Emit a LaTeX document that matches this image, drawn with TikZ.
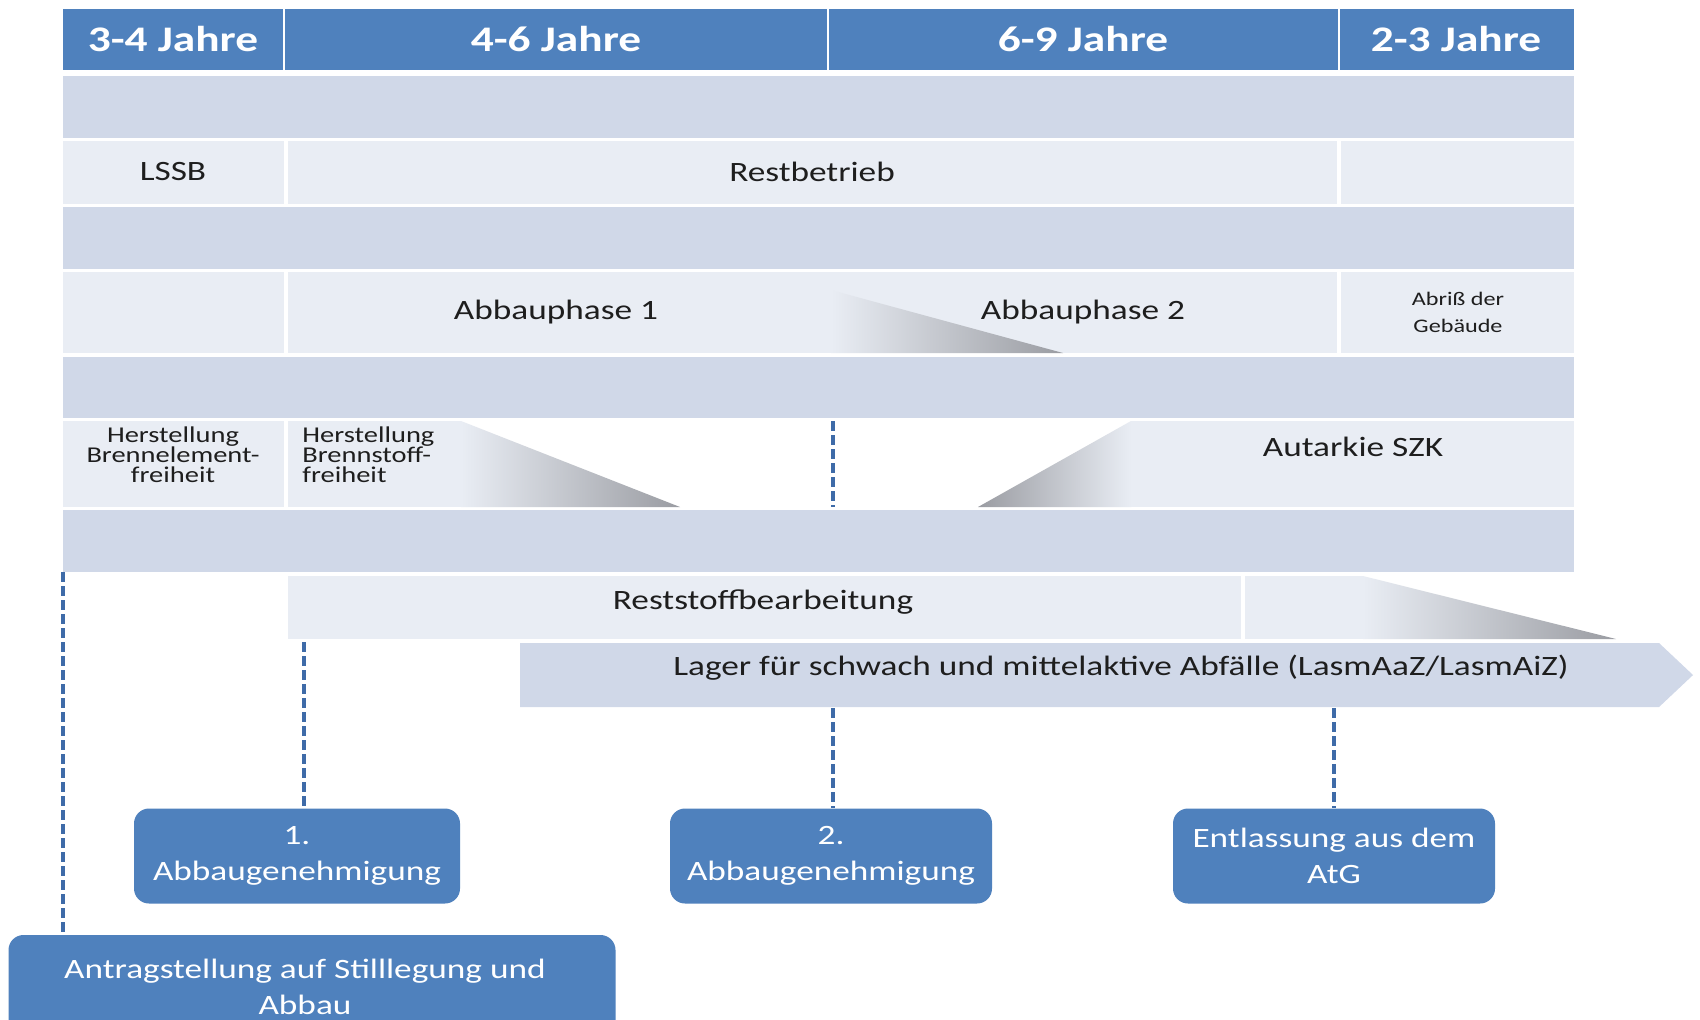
\documentclass[tikz,border=0pt]{standalone}
\usepackage{fontspec}
\setmainfont{Carlito}[FakeStretch=1.26]
\definecolor{hdr}{HTML}{4F81BD}
\definecolor{band}{HTML}{D0D8E8}
\definecolor{cellc}{HTML}{E9EDF4}
\definecolor{shd}{HTML}{9A9CA2}
\definecolor{dashc}{HTML}{3E6BA8}
\definecolor{boxc}{HTML}{4F81BD}
\definecolor{txtc}{HTML}{1E1E1E}
\begin{document}
\begin{tikzpicture}[x=0.5pt,y=-0.5pt,
  hd/.style={text=white,font=\fontsize{18}{20}\selectfont\bfseries,inner sep=0pt},
  txt/.style={text=txtc,font=\fontsize{14}{16}\selectfont,inner sep=0pt},
  small/.style={text=txtc,font=\fontsize{11.3}{10}\selectfont,inner sep=0pt},
  tiny/.style={text=txtc,font=\fontsize{9.6}{13.5}\selectfont,inner sep=0pt,align=center},
  mbox/.style={fill=boxc,rounded corners=7.5pt,text=white,align=center,
    font=\fontsize{14}{18}\selectfont,inner sep=0pt},
  mtext/.style={text=white,align=center,font=\fontsize{14}{18}\selectfont,inner sep=0pt},
  dashln/.style={draw=dashc,line width=2pt,dash pattern=on 5pt off 2pt}
]
\clip (0,0) rectangle (1700,1019);
\fill[white] (0,0) rectangle (1700,1019);
% header
\fill[hdr] (63,9) rectangle (1574,70);
\foreach \xx in {284,828,1339} \draw[white,line width=1.2pt] (\xx,9) -- (\xx,70);
\node[hd] (h1) at (173,39) {3-4 Jahre};
\node[hd] (h2) at (556,39) {4-6 Jahre};
\node[hd] (h3) at (1083,39) {6-9 Jahre};
\node[hd] (h4) at (1456,39) {2-3 Jahre};
% bands
\foreach \a/\b in {76/138,207/269,357/418,510/572}
  \fill[band] (63,\a) rectangle (1574,\b);
% row 2
\fill[cellc] (63,141) rectangle (284,204);
\fill[cellc] (288,141) rectangle (1337,204);
\fill[cellc] (1341,141) rectangle (1574,204);
\node[txt] (lssb) at (173,172) {LSSB};
\node[txt] (rest) at (812,172) {Restbetrieb};
% row 4
\fill[cellc] (63,272) rectangle (284,353);
\fill[cellc] (288,272) rectangle (831,353);
\fill[cellc] (831,272) rectangle (1337,353);
\fill[cellc] (1341,272) rectangle (1574,353);
\shade[left color=cellc,right color=shd] (831,290) -- (1063,353) -- (831,353) -- cycle;
\node[txt] (ap1) at (556,312) {Abbauphase 1};
\node[txt] (ap2) at (1083,312) {Abbauphase 2};
\node[tiny] (abr) at (1458,312) {Abriß der\\Gebäude};
% row 6
\fill[cellc] (63,421) rectangle (284,507);
\fill[cellc] (288,421) rectangle (461,507);
\shade[left color=cellc,right color=shd] (461,421) -- (680,507) -- (461,507) -- cycle;
\shade[left color=shd,right color=cellc] (978,507) -- (1131,421) -- (1131,507) -- cycle;
\fill[cellc] (1131,421) rectangle (1574,507);
\node[small,align=center] (hbe) at (173,455) {Herstellung\\Brennelement-\\freiheit};
\node[small,align=left,anchor=west] (hbs) at (302,455) {Herstellung\\Brennstoff-\\freiheit};
\node[txt] (aut) at (1353,447) {Autarkie SZK};
\coordinate (d6t) at (833,421);
\coordinate (d6b) at (833,507);
\draw[dashln] (d6t) -- (d6b);
% row 8
\fill[cellc] (288,576) rectangle (1241,639);
\fill[cellc] (1245,576) rectangle (1363,639);
\shade[left color=cellc,right color=shd] (1363,576) -- (1616,639) -- (1363,639) -- cycle;
\node[txt] (rsb) at (763,602) {Reststoffbearbeitung};
% arrow
\fill[band] (520,643) -- (1659,643) -- (1693,675) -- (1659,707) -- (520,707) -- cycle;
\node[txt] (lag) at (1121,668) {Lager für schwach und mittelaktive Abfälle (LasmAaZ/LasmAiZ)};
% boxes
\node[mbox,minimum width=163pt,minimum height=47.5pt] (b1) at (297,856) {1.\\Abbaugenehmigung};
\node[mbox,minimum width=161pt,minimum height=47.5pt] (b2) at (831,856) {2.\\Abbaugenehmigung};
\node[mbox,minimum width=161pt,minimum height=47.5pt] (b3) at (1334,856) {Entlassung aus dem\\AtG};
\node[mbox,minimum width=303.5pt,minimum height=52pt] (ant) at (312,987) {};
\node[mtext] (antt) at (305,987) {Antragstellung auf Stilllegung und\\Abbau};
% dashed connectors
\coordinate (c0) at (63,572);
\coordinate (c1) at (304,642);
\coordinate (c2) at (833,708);
\coordinate (c3) at (1334,708);
\draw[dashln] (c0) -- (ant.north -| c0);
\draw[dashln] (c1) -- (b1.north -| c1);
\draw[dashln] (c2) -- (b2.north -| c2);
\draw[dashln] (c3) -- (b3.north -| c3);
\end{tikzpicture}
\end{document}
